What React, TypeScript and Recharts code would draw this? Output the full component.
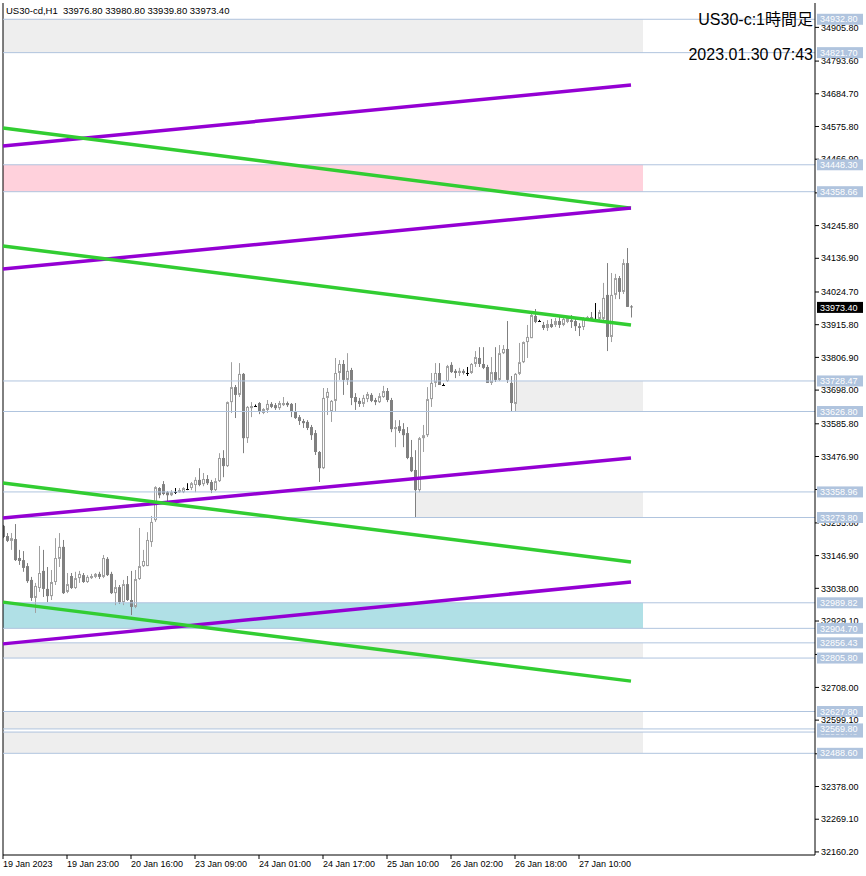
import { ComposedChart, Bar, XAxis, YAxis, ReferenceLine, ReferenceArea } from "recharts";

const headerText = "US30-cd,H1  33976.80 33980.80 33939.80 33973.40";
const titleText = "US30-c:1時間足";
const stampText = "2023.01.30 07:43";

// H1 candles (oldest first)
const opens = [
  33246, 33212, 33196, 33202, 33139, 33132, 33112, 33066, 33006, 33039,
  33096, 33036, 33012, 33059, 33136, 33176, 33026, 33079, 33039, 33072,
  33082, 33059, 33072, 33076, 33086, 33076, 33136, 33086, 33022, 33042,
  32992, 33052, 32999, 32976, 33069, 33112, 33112, 33192, 33265, 33372,
  33385, 33358, 33348, 33358, 33358, 33358, 33368, 33372, 33382, 33399,
  33385, 33402, 33392, 33365, 33395, 33472, 33445, 33658, 33708, 33682,
  33752, 33538, 33638, 33645, 33655, 33622, 33632, 33652, 33648, 33638,
  33648, 33655, 33652, 33625, 33608, 33595, 33592, 33575, 33555, 33492,
  33438, 33672, 33628, 33662, 33755, 33785, 33732, 33765, 33675, 33662,
  33652, 33668, 33682, 33665, 33658, 33675, 33695, 33665, 33568, 33578,
  33568, 33555, 33475, 33432, 33365, 33538, 33548, 33668, 33722, 33755,
  33715, 33728, 33782, 33762, 33755, 33762, 33755, 33755, 33785, 33805,
  33785, 33775, 33722, 33758, 33732, 33821, 33835, 33722, 33652, 33752,
  33791, 33858, 33871, 33945, 33928, 33915, 33905, 33918, 33915, 33928,
  33915, 33925, 33931, 33928, 33911, 33908, 33935, 33941, 33935, 33935,
  33935, 34015, 33875, 34015, 34071, 34025, 34121, 33976.8,
];
const highs = [
  33249, 33222, 33222, 33252, 33166, 33162, 33122, 33076, 33056, 33179,
  33166, 33109, 33099, 33205, 33222, 33199, 33089, 33089, 33093, 33096,
  33089, 33082, 33086, 33089, 33093, 33149, 33142, 33093, 33066, 33049,
  33066, 33079, 33096, 33099, 33239, 33166, 33225, 33279, 33378, 33375,
  33395, 33362, 33365, 33372, 33372, 33375, 33388, 33392, 33408, 33438,
  33422, 33415, 33399, 33405, 33488, 33498, 33660, 33791, 33715, 33788,
  33755, 33645, 33658, 33650, 33658, 33638, 33665, 33658, 33655, 33662,
  33675, 33660, 33655, 33655, 33615, 33602, 33598, 33582, 33565, 33495,
  33705, 33705, 33665, 33805, 33798, 33798, 33821, 33772, 33688, 33672,
  33682, 33692, 33688, 33672, 33688, 33712, 33705, 33672, 33598, 33598,
  33588, 33575, 33532, 33498, 33542, 33582, 33708, 33755, 33788, 33788,
  33720, 33782, 33791, 33768, 33772, 33768, 33775, 33788, 33828, 33841,
  33841, 33782, 33808, 33841, 33848, 33848, 33928, 33745, 33755, 33855,
  33860, 33915, 33958, 33968, 33932, 33925, 33931, 33935, 33938, 33941,
  33938, 33945, 33948, 33938, 33921, 33941, 33945, 33958, 33988, 33965,
  34055, 34121, 34088, 34085, 34078, 34134, 34171, 33980.8,
];
const lows = [
  33205, 33192, 33166, 33129, 33116, 33093, 33056, 32996, 32956, 33026,
  33009, 32992, 32999, 33049, 33109, 33019, 33022, 33036, 33036, 33056,
  33056, 33056, 33069, 33072, 33069, 33072, 33079, 33019, 32982, 32986,
  32982, 32996, 32949, 32972, 33066, 33109, 33112, 33176, 33259, 33338,
  33348, 33325, 33345, 33352, 33356, 33355, 33365, 33365, 33358, 33378,
  33378, 33382, 33355, 33362, 33392, 33408, 33442, 33622, 33605, 33675,
  33488, 33522, 33608, 33642, 33618, 33618, 33622, 33638, 33632, 33632,
  33645, 33642, 33608, 33602, 33582, 33572, 33565, 33532, 33482, 33392,
  33435, 33615, 33592, 33625, 33732, 33682, 33715, 33648, 33632, 33642,
  33642, 33658, 33658, 33648, 33655, 33672, 33658, 33558, 33508, 33555,
  33508, 33468, 33425, 33275, 33358, 33492, 33542, 33642, 33708, 33715,
  33712, 33725, 33755, 33738, 33745, 33750, 33745, 33752, 33775, 33775,
  33768, 33722, 33715, 33725, 33728, 33818, 33722, 33628, 33628, 33748,
  33788, 33805, 33871, 33921, 33925, 33898, 33895, 33905, 33908, 33905,
  33911, 33921, 33905, 33895, 33878, 33898, 33931, 33931, 33931, 33931,
  33931, 33828, 33858, 34001, 34001, 34018, 33975, 33939.8,
];
const closes = [
  33209, 33196, 33205, 33132, 33129, 33106, 33062, 33006, 33046, 33089,
  33036, 33012, 33059, 33139, 33176, 33022, 33052, 33039, 33072, 33086,
  33059, 33076, 33079, 33086, 33076, 33139, 33082, 33022, 33042, 32992,
  33052, 32999, 32976, 33069, 33112, 33129, 33199, 33259, 33375, 33348,
  33352, 33348, 33358, 33358, 33365, 33372, 33368, 33388, 33399, 33382,
  33402, 33388, 33365, 33395, 33472, 33445, 33658, 33708, 33682, 33752,
  33538, 33642, 33645, 33645, 33628, 33635, 33652, 33642, 33638, 33655,
  33655, 33648, 33625, 33605, 33595, 33588, 33572, 33548, 33492, 33438,
  33672, 33692, 33662, 33755, 33785, 33732, 33762, 33672, 33658, 33652,
  33672, 33685, 33662, 33658, 33678, 33695, 33665, 33568, 33575, 33562,
  33548, 33472, 33428, 33365, 33538, 33548, 33668, 33722, 33755, 33715,
  33715, 33778, 33758, 33755, 33762, 33755, 33755, 33785, 33808, 33785,
  33772, 33722, 33758, 33732, 33821, 33835, 33732, 33655, 33752, 33791,
  33858, 33875, 33948, 33925, 33928, 33905, 33918, 33908, 33928, 33915,
  33935, 33938, 33925, 33911, 33905, 33938, 33941, 33935, 33935, 33958,
  34005, 33875, 34015, 34071, 34025, 34121, 33975, 33973.4,
];

const timeTickBars = [0, 16, 32, 48, 64, 80, 96, 112, 128, 144];
const timeTickLabels = [
  "19 Jan 2023", "19 Jan 23:00", "20 Jan 16:00", "23 Jan 09:00", "24 Jan 01:00",
  "24 Jan 17:00", "25 Jan 10:00", "26 Jan 02:00", "26 Jan 18:00", "27 Jan 10:00",
];

const priceTicks = [
  34905.8, 34793.6, 34684.7, 34575.8, 34466.9, 34354.7, 34245.8, 34136.9, 34024.7,
  33915.8, 33806.9, 33698.0, 33585.8, 33476.9, 33366.9, 33255.8, 33146.9, 33038.0,
  32929.1, 32817.8, 32708.0, 32599.1, 32487.0, 32378.0, 32269.1, 32160.2,
];

const levelPrices = [
  34932.8, 34821.7, 34448.3, 34358.66, 33728.47, 33626.8, 33358.96, 33273.8,
  32989.82, 32904.7, 32856.43, 32805.8, 32627.8, 32559.4, 32569.8, 32488.6,
];

const zoneTops = [34932.8, 34448.3, 33728.47, 33358.96, 32989.82, 32856.43, 32627.8, 32559.4];
const zoneBottoms = [34821.7, 34358.66, 33626.8, 33273.8, 32904.7, 32805.8, 32569.8, 32488.6];
const zoneStartBars = [0, 0, 128, 103, 0, 0, 0, 0];
const zoneEndBar = 160;
const zoneFills = ["#eeeeee", "#ffd1dc", "#eeeeee", "#eeeeee", "#b0e0e6", "#eeeeee", "#eeeeee", "#eeeeee"];

const trendStartPrices = [34511, 34571, 34101, 34178, 33272, 33389, 32853, 32992];
const trendEndPrices = [34714, 34304, 34304, 33915, 33472, 33126, 33059, 32729];
const trendColors = ["#9400d3", "#32cd32", "#9400d3", "#32cd32", "#9400d3", "#32cd32", "#9400d3", "#32cd32"];
const trendEndBar = 157;

const data = opens.map((o, i) => ({ i, o, h: highs[i], l: lows[i], c: closes[i] }));
const lastClose = closes[closes.length - 1];
const tagPrices = [...levelPrices, lastClose];
const Y_DOMAIN = [32150, 34987];

function Candle(props: any) {
  const { x, y, width, height, payload } = props;
  if (!payload) return null;
  const { o, h, l, c } = payload;
  const top = Math.min(y, y + height);
  const span = Math.abs(height);
  const k = h === l ? 0 : span / (h - l);
  const bodyTop = top + (h - Math.max(o, c)) * k;
  const bodyBot = top + (h - Math.min(o, c)) * k;
  const cx = Math.round(x + (width || 0) / 2);
  const doji = o === c;
  const bull = c > o;
  const col = doji ? "#000" : bull ? "#a0a0a0" : "#808080";
  return (
    <g>
      <line x1={cx + 0.5} x2={cx + 0.5} y1={top} y2={top + span} stroke={col} strokeWidth={1} />
      {doji ? (
        <line x1={cx - 1} x2={cx + 2} y1={Math.round(bodyTop) + 0.5} y2={Math.round(bodyTop) + 0.5} stroke="#000" />
      ) : bull ? (
        <rect x={cx - 0.5} y={bodyTop + 0.5} width={2} height={Math.max(bodyBot - bodyTop - 1, 0.5)} fill="#fff" stroke={col} strokeWidth={1} />
      ) : (
        <rect x={cx - 1} y={bodyTop} width={3} height={Math.max(bodyBot - bodyTop, 1)} fill={col} />
      )}
    </g>
  );
}

// level / bid tags sit on top of the price scale, like the terminal draws them
function TagTick(props: any) {
  const { y, payload } = props;
  const v = payload.value;
  const bg = v === lastClose ? "#000" : "#b0c4de";
  return (
    <g>
      <rect x={817} y={y - 5.5} width={46} height={11} fill={bg} />
      <text x={820} y={y} dy="0.35em" fontSize={9} fill="#fff" textAnchor="start">
        {Number(v).toFixed(2)}
      </text>
    </g>
  );
}

function PriceTick(props: any) {
  const { x, y, payload } = props;
  const covered = levelPrices.some((p) => Math.abs(p - payload.value) < 14);
  if (covered) return null;
  return (
    <text x={x} y={y} dy="0.355em" fontSize={9} fill="#000" textAnchor="start">
      {Number(payload.value).toFixed(2)}
    </text>
  );
}

function TimeTick(props: any) {
  const { x, y, payload } = props;
  const idx = timeTickBars.indexOf(payload.value);
  return (
    <text x={x} y={y} dy="0.71em" fontSize={9} fill="#000" textAnchor="start">
      {timeTickLabels[idx]}
    </text>
  );
}

export default function App() {
  return (
    <div style={{ position: "absolute", left: 0, top: 0, width: 866, height: 876, background: "#fff", fontFamily: "'Liberation Sans', Arial, sans-serif" }}>
      <ComposedChart width={866} height={876} data={data} margin={{ top: 3, right: 0, bottom: 0, left: 3 }}>
        <XAxis
          type="number"
          dataKey="i"
          domain={[0, 203]}
          ticks={timeTickBars}
          interval={0}
          height={21}
          tickSize={4}
          padding={{ left: 0, right: 0 }}
          tick={<TimeTick />}
          axisLine={{ stroke: "#000" }}
          tickLine={{ stroke: "#000" }}
          allowDataOverflow
        />
        <YAxis
          orientation="right"
          type="number"
          domain={Y_DOMAIN}
          ticks={priceTicks}
          interval={0}
          width={50}
          tickSize={4}
          tickMargin={2}
          allowDataOverflow
          tick={<PriceTick />}
          axisLine={{ stroke: "#000" }}
          tickLine={{ stroke: "#000" }}
        />
        <YAxis
          yAxisId="tags"
          orientation="right"
          type="number"
          domain={Y_DOMAIN}
          ticks={tagPrices}
          interval={0}
          width={1}
          allowDataOverflow
          tick={<TagTick />}
          axisLine={false}
          tickLine={false}
        />
        {zoneTops.map((t, k) => (
          <ReferenceArea
            key={"z" + k}
            x1={zoneStartBars[k]}
            x2={zoneEndBar}
            y1={zoneBottoms[k]}
            y2={t}
            fill={zoneFills[k]}
            fillOpacity={1}
            stroke="none"
          />
        ))}
        <ReferenceLine x={0} stroke="#000" />
        {levelPrices.map((p, k) => (
          <ReferenceLine key={"l" + k} yAxisId="tags" y={p} stroke="#b0c4de" strokeWidth={1} />
        ))}
        <ReferenceLine yAxisId="tags" y={lastClose} stroke="none" />
        <Bar dataKey={(d: any) => [d.l, d.h]} shape={<Candle />} barSize={3} isAnimationActive={false} />
        {trendStartPrices.map((p, k) => (
          <ReferenceLine
            key={"t" + k}
            segment={[{ x: 0, y: p }, { x: trendEndBar, y: trendEndPrices[k] }]}
            stroke={trendColors[k]}
            strokeWidth={3.5}
          />
        ))}
      </ComposedChart>
      <div style={{ position: "absolute", left: 6, top: 5, fontSize: 9.5, lineHeight: "11px", color: "#000", whiteSpace: "pre" }}>{headerText}</div>
      <div style={{ position: "absolute", right: 53, top: 10, fontSize: 16, lineHeight: "20px", color: "#000", fontFamily: "'Liberation Sans', 'Noto Sans CJK JP', sans-serif" }}>{titleText}</div>
      <div style={{ position: "absolute", right: 53, top: 45, fontSize: 16, lineHeight: "20px", color: "#000" }}>{stampText}</div>
    </div>
  );
}
